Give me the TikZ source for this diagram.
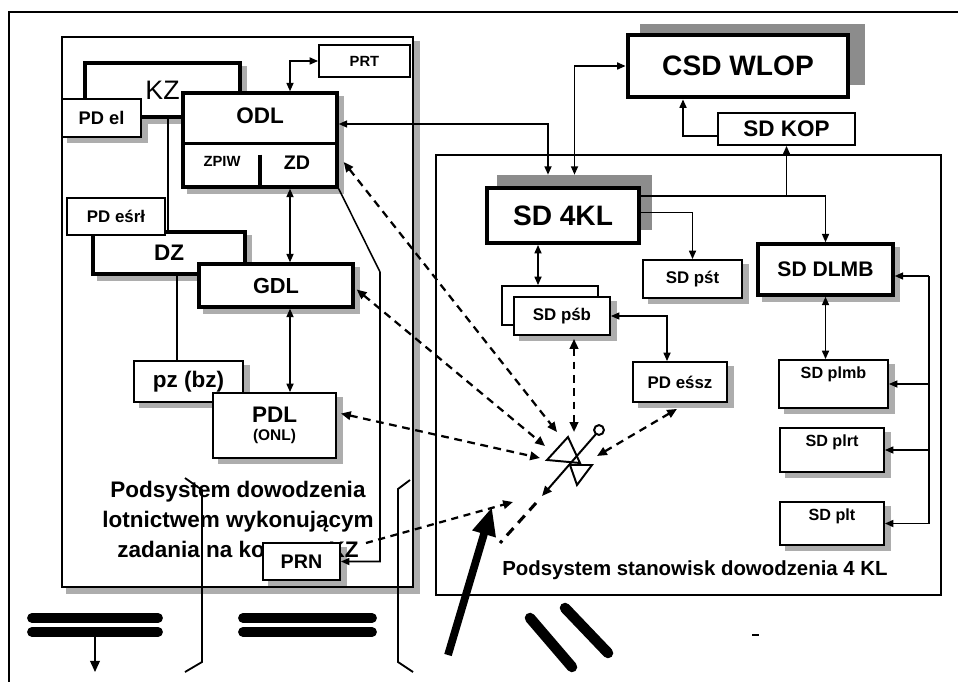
\documentclass[tikz,border=0pt]{standalone}
\usepackage{fontspec}
\setmainfont{Liberation Sans}
\usetikzlibrary{arrows.meta,calc,backgrounds}
\tikzset{
  box/.style={rectangle, draw=black, line width=1.3pt, fill=white, inner sep=0pt,
    font=\bfseries\fontsize{12}{12}\selectfont, align=center},
  boldbox/.style={box, line width=2.4pt},
  frame/.style={rectangle, draw=black, inner sep=0pt},
  shade/.style={fill=black!32},
  backsh/.style={rectangle, fill=black!45, inner sep=0pt},
  fs/.style={font=\bfseries\fontsize{#1}{#1}\selectfont},
  toplabel/.style={label={[fs=11.5, anchor=north, inner sep=5.5pt]north:#1}},
  link/.style={line width=1.1pt},
  arr/.style={link, -{Triangle[length=6pt,width=5pt]}},
  dbl/.style={link, {Triangle[length=6pt,width=5pt]}-{Triangle[length=6pt,width=5pt]}},
  radio/.style={line width=1.6pt, dash pattern=on 5.5pt off 4pt,
    {Triangle[length=7pt,width=6pt]}-{Triangle[length=7pt,width=6pt]}},
  radioone/.style={line width=1.6pt, dash pattern=on 5pt off 4pt, -{Triangle[length=7pt,width=6pt]}},
  ant/.style={line width=1.4pt},
  bar/.style={line width=7pt, line cap=round},
}

\begin{document}
\begin{tikzpicture}[x=0.025cm, y=-0.025cm]
\useasboundingbox (0,0) rectangle (958,682);

% ---------- sheet frame ----------
\draw[line width=1.3pt] (958,12) -- (9,12) -- (9,682);

% ---------- subsystem frames ----------
\node[frame, line width=2pt, minimum width=8.775cm, minimum height=13.75cm] (left-frame) at (237.5,312) {};
\node[frame, line width=1.3pt, minimum width=12.625cm, minimum height=11cm] (right-frame) at (688.5,375) {};

% ---------- KZ / ODL group ----------
\node[boldbox, font=\fontsize{19}{19}\selectfont, minimum width=3.875cm, minimum height=1.35cm] (kz) at (162.5,90) {KZ};
\node[box, fs=13, minimum width=1.975cm, minimum height=0.95cm] (pd-el) at (101.5,118) {PD el};
\node[boldbox, minimum width=3.85cm, minimum height=2.35cm] (odl) at (260,140) {};
\node[fs=16] (odl-t) at (260,116) {ODL};
\node[fs=10.5] (zpiw) at (222,161) {ZPIW};
\node[fs=14] (zd) at (297,163) {ZD};
\draw[line width=2pt] ($(odl.north west)+(0,52)$) -- ($(odl.north east)+(0,52)$);
\draw[line width=2.4pt] ($(odl.south)+(0,-34)$) -- ($(odl.south)+(0,-2)$);
\node[box, fs=10.5, minimum width=2.275cm, minimum height=0.8cm] (prt) at (364.5,61) {PRT};

% ---------- DZ / GDL group ----------
\node[boldbox, fs=16, minimum width=3.8cm, minimum height=1.05cm] (dz) at (169,253) {DZ};
\node[box, fs=12, minimum width=2.45cm, minimum height=0.925cm] (pd-esrl) at (116,216.5) {PD eśrł};
\node[boldbox, fs=15.5, minimum width=3.85cm, minimum height=1.075cm] (gdl) at (276,285.5) {GDL};

% ---------- PDL group ----------
\node[box, fs=16, minimum width=2.725cm, minimum height=1.025cm] (pz-bz) at (188.5,381.5) {pz (bz)};
\node[box, fs=16, minimum width=3.075cm, minimum height=1.625cm] (pdl) at (274.5,425.5)
  {PDL\\[-3pt]\fontsize{11}{11}\selectfont(ONL)};

\node[font=\bfseries\fontsize{16}{21.3}\selectfont, align=center] (left-title) at (238,522)
  {Podsystem dowodzenia\\lotnictwem wykonującym\\zadania na ko\phantom{rzyść} KZ};
\node[box, fs=14, minimum width=1.925cm, minimum height=0.925cm] (prn) at (301.5,561.5) {PRN};

% ---------- CSD WLOP / SD 4KL ----------
\node[backsh, minimum width=5.625cm, minimum height=1.525cm] (csd-sh) at (752.5,54.5) {};
\node[box, line width=3.4pt, fs=20, minimum width=5.5cm, minimum height=1.55cm] (csd) at (738,66) {CSD WLOP};
\node[box, fs=16, minimum width=3.425cm, minimum height=0.8cm] (sd-kop) at (786.5,129) {SD KOP};
\node[backsh, minimum width=3.875cm, minimum height=1.375cm] (sd-4kl-sh) at (574.5,202.5) {};
\node[boldbox, line width=2.8pt, fs=20, minimum width=3.8cm, minimum height=1.375cm] (sd-4kl) at (563,215.5) {SD 4KL};

% ---------- SD 4KL subordinates ----------
\node[box, fs=12, minimum width=2.475cm, minimum height=0.95cm] (sd-pst) at (692.5,279) {SD pśt};
\node[boldbox, fs=15, minimum width=3.375cm, minimum height=1.275cm] (sd-dlmb) at (825.5,269.5) {SD DLMB};
\node[box, minimum width=2.4cm, minimum height=0.975cm] (sd-psb-back) at (550,305.5) {};
\node[box, fs=12, minimum width=2.4cm, minimum height=0.95cm] (sd-psb) at (562,316) {SD pśb};
\node[box, fs=12, minimum width=2.35cm, minimum height=1cm] (pd-essz) at (680,382) {PD eśsz};
\node[box, toplabel={SD plmb}, minimum width=2.725cm, minimum height=1.2cm] (sd-plmb) at (833.5,384) {};
\node[box, toplabel={SD plrt}, minimum width=2.6cm, minimum height=1.1cm] (sd-plrt) at (832,450) {};
\node[box, toplabel={SD plt}, minimum width=2.6cm, minimum height=1.075cm] (sd-plt) at (832,523.5) {};
\node[fs=14.5] (right-title) at (695,570) {Podsystem stanowisk dowodzenia 4 KL};

% ---------- shadows ----------
\begin{scope}[on background layer]
  \fill[shade] ([shift={(0pt,-3.6pt)}]left-frame.north east) rectangle ([shift={(4pt,-3.6pt)}]left-frame.south east);
  \fill[shade] ([shift={(4pt,0pt)}]left-frame.south west) rectangle ([shift={(4pt,-3.6pt)}]left-frame.south east);
  \foreach \n in {kz,pd-el,odl,dz,gdl,pz-bz,pdl,prn,sd-pst,sd-dlmb,sd-psb,pd-essz,sd-plmb,sd-plrt,sd-plt}
    \fill[shade] ([shift={(4pt,-3.6pt)}]\n.south west) rectangle ([shift={(4pt,-3.6pt)}]\n.north east);
\end{scope}

% ================= Connections =================
\coordinate (cx) at (290,0);
\coordinate (kz-line) at (168,0);
\coordinate (dz-line) at (177,0);
\coordinate (r1) at (548,124);
\coordinate (prn-bend) at (380,272);

\draw[dbl] (odl.south -| cx) -- (gdl.north -| cx);
\draw[dbl] (gdl.south -| cx) -- (pdl.north -| cx);
\draw[dbl] (odl.north -| cx) |- (prt.west);
\draw[link] (kz.south -| kz-line) -- (dz.north -| kz-line);
\draw[link] (dz.south -| dz-line) -- (pz-bz.north -| dz-line);
\draw[arr] (odl.south east) -- (prn-bend) |- (prn.east);

% ODL <-> SD 4KL <-> CSD WLOP
\draw[dbl] (odl.east |- r1) -| (sd-4kl-sh.north -| r1);
\draw[dbl] (sd-4kl-sh.north) |- (csd.west);
\draw[arr] ($(sd-kop.west)+(0,7)$) -| ($(csd.south)+(-55,0)$);

% SD 4KL -> subordinates
\coordinate (j1) at ($(sd-4kl.north east)+(0,10)$);
\draw[arr] (j1) -| (sd-dlmb.north);
\draw[arr] (j1 -| sd-kop.south) -- (sd-kop.south);
\draw[arr] ($(sd-4kl.east)+(0,-3)$) -| (sd-pst.north);
\draw[dbl] ($(sd-4kl.south)+(-25,0)$) -- ($(sd-psb-back.north)+(-12,0)$);
\draw[dbl] (sd-psb.east) -| ($(pd-essz.north)+(-13,0)$);
\draw[dbl] (sd-dlmb.south) -- (sd-dlmb.south |- sd-plmb.north);

% DLMB bus
\coordinate (bus-t) at (929,276);
\draw[link] (bus-t) -- (bus-t |- sd-plt.east);
\draw[arr] (bus-t) -- (bus-t -| sd-dlmb.east);
\draw[arr] (bus-t |- sd-plmb.east) -- (sd-plmb.east);
\draw[arr] (bus-t |- sd-plrt.east) -- (sd-plrt.east);
\draw[arr] (bus-t |- sd-plt.east) -- (sd-plt.east);

% ================= Radio station =================
\coordinate (hub) at (572,462);
\coordinate (kz-end) at (366,543);
\draw[ant] (547,460) -- (568,437) -- (580,463) -- cycle;
\draw[ant] (570,465) -- (592,465) -- (577,485) -- cycle;
\draw[ant, -{Triangle[length=7pt,width=6pt]}] (596,434) -- (542,496);
\draw[ant, fill=white] (599,430) circle [radius=3.5pt];
\draw[line width=2.2pt, dash pattern=on 7pt off 5pt] (536,503) -- (500,543);

\draw[radio] ($(odl.east)+(5,22)$) -- ($(hub)+(-15,-30)$);
\draw[radio] ($(gdl.east)+(2,4)$) -- ($(hub)+(-27,-16)$);
\draw[radio] ($(pdl.east)+(4,-12)$) -- ($(hub)+(-32,-4)$);
\draw[radio] ($(sd-psb.south)+(12,3)$) -- ($(hub)+(2,-30)$);
\draw[radio] ($(hub)+(25,-6)$) -- ($(pd-essz.south)+(-3,6)$);
\draw[radioone] (kz-end) -- ($(hub)+(-59,40)$);

% ================= Bottom marks =================
\draw[line width=5.5pt, -{Triangle[length=20pt,width=16pt]}] (448,655) -- (492,507);
\draw[bar] (32,618) -- (158,618);
\draw[bar] (32,632) -- (158,632);
\draw[link, -{Triangle[length=8pt,width=7pt]}] (95,632) -- (95,672);
\draw[bar] (243,618) -- (372,618);
\draw[bar] (243,632) -- (372,632);
\draw[line width=1.3pt] (185,478) -- (202,490) -- (202,662) -- (185,672);
\draw[line width=1.3pt] (410,480) -- (398,489) -- (398,662) -- (413,672);
\draw[bar, line width=7.5pt] (530,618) -- (572,667);
\draw[bar, line width=7.5pt] (565,608) -- (608,653);
\draw[line width=1.2pt] (752,635) -- (759,635);

\end{tikzpicture}
\end{document}
